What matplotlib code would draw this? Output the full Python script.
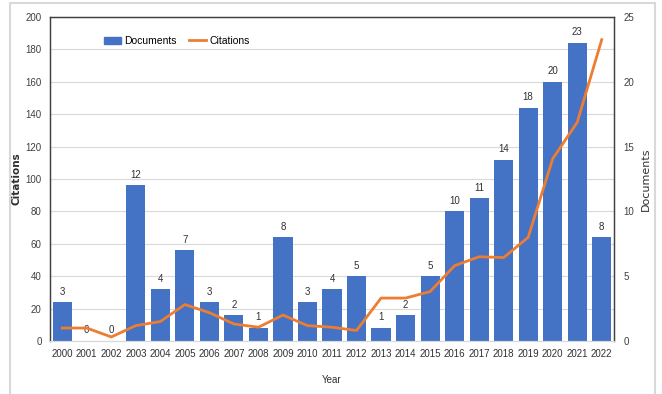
import numpy as np
import matplotlib
matplotlib.use("Agg")
import matplotlib.pyplot as plt
from matplotlib.patches import Rectangle
from matplotlib.lines import Line2D
from matplotlib.patches import Patch

plt.rcParams["font.family"] = ["Liberation Sans Narrow", "Liberation Sans", "DejaVu Sans"]

years = [str(y) for y in range(2000, 2023)]
documents = [3, 0, 0, 12, 4, 7, 3, 2, 1, 8, 3, 4, 5, 1, 2, 5, 10, 11, 14, 18, 20, 23, 8]
citations = [8, 8, 2.5, 9.5, 12, 22.5, 17.5, 10.5, 8.5, 16, 9.5, 8.5, 6.5, 26.5, 26.5, 30.5,
             46.5, 52, 51.5, 64, 112.5, 135, 186]

BAR_COLOR = "#4472C4"
LINE_COLOR = "#ED7D31"
GRID_COLOR = "#D9D9D9"
TEXT_COLOR = "#404040"

fig = plt.figure(figsize=(6.62, 3.94), dpi=100)
fig.patches.append(Rectangle((10 / 662, -0.01), 645 / 662, 1 - 3 / 394 + 0.01,
                             transform=fig.transFigure, fill=False,
                             edgecolor=GRID_COLOR, linewidth=1.5))

ax = fig.add_axes([50 / 662, 1 - 341 / 394, 564 / 662, 324 / 394])
x = np.arange(len(years))

# documents as bars, scaled on the right axis
bars = ax.bar(x, documents, width=0.78, color=BAR_COLOR, zorder=2)
ax.bar_label(bars, padding=4, fontsize=7, color="#303030")
ax.set_ylim(0, 25)
ax.set_xlim(-0.5, len(years) - 0.5)
ax.set_yticks(np.arange(0, 26, 5))
ax.set_yticks(np.arange(0, 26, 2.5), minor=True)
ax.set_xticks(x)
ax.set_xticklabels(years)
ax.grid(axis="y", which="both", color=GRID_COLOR, linewidth=0.8)
ax.set_axisbelow(True)
ax.set_xlabel("Year", fontsize=7, color="#303030", labelpad=11)

# citations as a line, scaled on the left axis
ax2 = ax.twinx()
ax2.plot(x, citations, color=LINE_COLOR, linewidth=2, zorder=3)
ax2.set_ylim(0, 200)
ax2.set_yticks(np.arange(0, 201, 20))

# swap sides: twinx puts the first axis on the left
ax.yaxis.tick_right()
ax.yaxis.set_label_position("right")
ax.set_ylabel("Documents", fontsize=8, color="#303030", family="DejaVu Sans")
ax.yaxis.set_label_coords(1.048, 0.5)
ax.tick_params(axis="y", which="both", length=0, labelsize=7, colors=TEXT_COLOR, pad=7)
ax.tick_params(axis="x", length=0, labelsize=7, colors="#303030", pad=6)

ax2.yaxis.tick_left()
ax2.yaxis.set_label_position("left")
ax2.tick_params(axis="y", length=0, labelsize=7, colors=TEXT_COLOR, pad=6)
ax2.set_ylabel("Citations", fontsize=7.5, color="#303030", fontweight="bold",
               family="DejaVu Sans")
ax2.yaxis.set_label_coords(-0.05, 0.5)

for a in (ax, ax2):
    for side in ("left", "right", "top"):
        a.spines[side].set_color("#404040")
        a.spines[side].set_linewidth(0.9)
    a.spines["bottom"].set_color(GRID_COLOR)

handles = [Patch(color=BAR_COLOR, label="Documents"),
           Line2D([0], [0], color=LINE_COLOR, linewidth=2, label="Citations")]
ax2.legend(handles=handles, loc="upper left", bbox_to_anchor=(0.08, 0.97), ncol=2,
           frameon=False, fontsize=7.5, handlelength=1.6, handletextpad=0.3,
           columnspacing=1.2)

fig.savefig("out.png", dpi=100)
